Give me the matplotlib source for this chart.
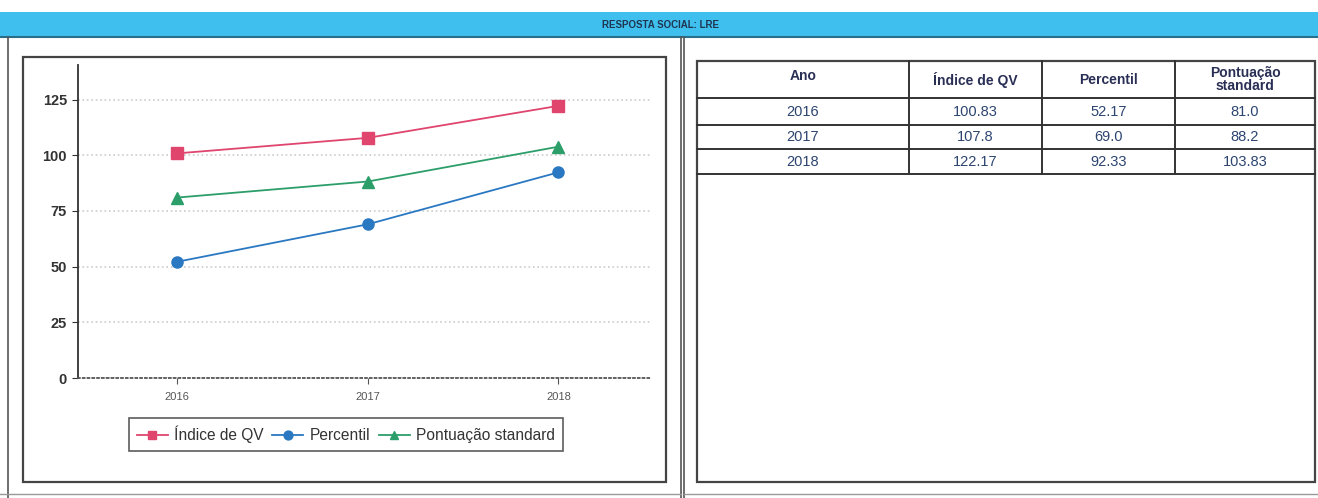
import matplotlib.pyplot as plt
from matplotlib.patches import Rectangle

plt.rcParams['font.family'] = ['Liberation Sans', 'DejaVu Sans']

# Data
anos = ['2016', '2017', '2018']
indice_qv = [100.83, 107.8, 122.17]
percentil = [52.17, 69.0, 92.33]
pontuacao = [81.0, 88.2, 103.83]

table_header = ['Ano', 'Índice de QV', 'Percentil', 'Pontuação\nstandard']
table_rows = [[a, str(q), str(p), str(s)] for a, q, p, s in zip(anos, indice_qv, percentil, pontuacao)]

W, H = 1318, 498
fig = plt.figure(figsize=(W / 100, H / 100), dpi=100)
fig.patch.set_facecolor('white')

# background layer in pixel coords (y downward)
bg = fig.add_axes([0, 0, 1, 1])
bg.set_xlim(0, W)
bg.set_ylim(H, 0)
bg.axis('off')

# title band
bg.add_patch(Rectangle((0, 12), W, 25, facecolor='#3fbfee', edgecolor='none'))
bg.plot([0, W], [37, 37], color='#2a6f8a', lw=1.5)
bg.text(660, 25, 'RESPOSTA SOCIAL: LRE', ha='center', va='center',
        fontsize=7, fontweight='bold', color='#1f3550')

# panel frames
bg.plot([8, 8], [37, 498], color='#555', lw=1.2)
bg.plot([681, 681], [37, 498], color='#555', lw=1.2)
bg.plot([684, 684], [37, 498], color='#555', lw=1.2)
bg.plot([0, 681], [494, 494], color='#999', lw=1)
bg.plot([684, W], [494, 494], color='#999', lw=1)
bg.add_patch(Rectangle((23, 57), 643, 425, facecolor='none', edgecolor='#444', lw=1.6))
bg.add_patch(Rectangle((697, 61), 618, 421, facecolor='none', edgecolor='#444', lw=1.6))

# table
col_x = [697, 909, 1042, 1175, 1315]
row_y = [61, 98, 125, 149, 174]
for x in col_x[1:-1]:
    bg.plot([x, x], [row_y[0], row_y[-1]], color='#333', lw=1.4)
for y in row_y[1:]:
    bg.plot([col_x[0], col_x[-1]], [y, y], color='#333', lw=1.4)

for j, h in enumerate(table_header):
    cx = (col_x[j] + col_x[j + 1]) / 2
    cy = (row_y[0] + row_y[1]) / 2 - (4 if j == 0 else 0)
    bg.text(cx, cy, h, ha='center', va='center', fontsize=10, fontweight='bold',
            color='#2a2f55', linespacing=0.95)
for i, row in enumerate(table_rows):
    cy = (row_y[i + 1] + row_y[i + 2]) / 2
    for j, v in enumerate(row):
        cx = (col_x[j] + col_x[j + 1]) / 2
        bg.text(cx, cy, v, ha='center', va='center', fontsize=10.5, color='#2c4470')

# line chart
ax = fig.add_axes([78 / W, (H - 378) / H, (650 - 78) / W, (378 - 65) / H])
x = range(len(anos))
ax.plot(x, indice_qv, color='#e0456e', marker='s', ms=8, lw=1.3, label='Índice de QV')
ax.plot(x, percentil, color='#2a78c2', marker='o', ms=8, lw=1.3, label='Percentil')
ax.plot(x, pontuacao, color='#2c9e6a', marker='^', ms=8, lw=1.3, label='Pontuação standard')

ax.set_xlim(-0.52, 2.48)
ax.set_ylim(0, 140.5)
ax.set_yticks([0, 25, 50, 75, 100, 125])
ax.set_xticks(list(x))
ax.set_xticklabels(anos)
ax.grid(axis='y', linestyle=':', color='#cccccc', lw=1.2)
ax.set_axisbelow(True)
for s in ['top', 'right']:
    ax.spines[s].set_visible(False)
ax.spines['left'].set_color('#333')
ax.spines['left'].set_linewidth(1.3)
ax.spines['bottom'].set_linestyle(':')
ax.spines['bottom'].set_color('#555')
ax.spines['bottom'].set_linewidth(1.3)
ax.tick_params(axis='y', labelsize=10.5, colors='#333', length=4, pad=4)
ax.tick_params(axis='x', labelsize=8, labelcolor='#555', color='#555', length=4, pad=6)
for lbl in ax.get_yticklabels():
    lbl.set_fontweight('bold')

leg = ax.legend(loc='upper center', bbox_to_anchor=(0.468, -0.102), ncol=3,
                frameon=True, fancybox=False, fontsize=11.2, handlelength=2.0,
                handletextpad=0.4, columnspacing=0.55, borderpad=0.5, markerscale=0.8)
leg.get_frame().set_edgecolor('#333')
leg.get_frame().set_linewidth(1.2)
for t in leg.get_texts():
    t.set_color('#333')

fig.savefig('out.png', dpi=100, facecolor='white')
